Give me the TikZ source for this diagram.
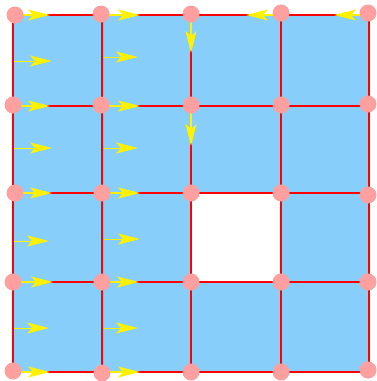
\documentclass[tikz,border=0pt]{standalone}
\usetikzlibrary{arrows.meta}
\definecolor{cellblue}{RGB}{135,206,250}
\definecolor{nodepink}{RGB}{255,160,160}
\tikzset{
  edge/.style={draw=red, line width=2.9pt},
  flow/.style={draw=yellow, line width=1.3pt, -{Stealth[length=22pt,width=11pt,inset=5pt]}},
  vertex/.style={circle, fill=nodepink, inner sep=0pt, minimum size=17pt},
  cell/.style={fill=cellblue}
}
\begin{document}
\begin{tikzpicture}[x=1pt,y=-1pt]
\useasboundingbox (0,0) rectangle (376,381);
% grid coordinates
\foreach \c/\x in {0/13,1/102,2/191,3/281,4/369}{
  \foreach \r/\y in {0/15,1/106,2/193,3/282,4/372}{
    \coordinate (p\r\c) at (\x,\y);
  }
}
% cells
\foreach \r/\rr in {0/1,1/2,2/3,3/4}{
  \foreach \c/\cc in {0/1,1/2,2/3,3/4}{
    \fill[cellblue] (p\r\c) -- (p\r\cc) -- (p\rr\cc) -- (p\rr\c) -- cycle;
  }
}
\fill[white] (p22) -- (p23) -- (p33) -- (p32) -- cycle;
% edges
\foreach \r in {0,1,2,3,4}{
  \foreach \c/\cc in {0/1,1/2,2/3,3/4}{
    \draw[edge] (p\r\c) -- (p\r\cc);
  }
}
\foreach \c in {0,1,2,3,4}{
  \foreach \r/\rr in {0/1,1/2,2/3,3/4}{
    \draw[edge] (p\r\c) -- (p\rr\c);
  }
}
% arrow end points
\coordinate (a00) at (50,15);   \coordinate (a01) at (140,15);
\coordinate (a10) at (50,106);  \coordinate (a11) at (140,106);
\coordinate (a20) at (52,193);  \coordinate (a21) at (140,193);
\coordinate (a30) at (53,282);  \coordinate (a31) at (139,282);
\coordinate (a40) at (50,372);  \coordinate (a41) at (140,372);
\draw[flow] (p00) -- (a00); \draw[flow] (p01) -- (a01);
\draw[flow] (p10) -- (a10); \draw[flow] (p11) -- (a11);
\draw[flow] (p20) -- (a20); \draw[flow] (p21) -- (a21);
\draw[flow] (p30) -- (a30); \draw[flow] (p31) -- (a31);
\draw[flow] (p40) -- (a40); \draw[flow] (p41) -- (a41);
% interior arrows
\coordinate (s0) at (14,61);   \coordinate (t0) at (52,61);
\coordinate (s1) at (103,57);  \coordinate (t1) at (138,57);
\coordinate (s2) at (14,148);  \coordinate (t2) at (52,148);
\coordinate (s3) at (103,148); \coordinate (t3) at (138,148);
\coordinate (s4) at (14,241);  \coordinate (t4) at (49,241);
\coordinate (s5) at (104,239); \coordinate (t5) at (140,239);
\coordinate (s6) at (14,328);  \coordinate (t6) at (49,328);
\coordinate (s7) at (103,328); \coordinate (t7) at (138,328);
\foreach \i in {0,...,7}{ \draw[flow, line width=1pt] (s\i) -- (t\i); }
% leftward and downward arrows
\coordinate (l3) at (246,15); \coordinate (l4) at (334,15);
\draw[flow] (p03) -- (l3); \draw[flow] (p04) -- (l4);
\coordinate (d0) at (191,53); \coordinate (d1) at (191,146);
\draw[flow] (p02) -- (d0); \draw[flow] (p12) -- (d1);
% vertices
\node[vertex] (n00) at (15,15) {};  \node[vertex] (n01) at (101,14) {};
\node[vertex] (n02) at (191,14) {}; \node[vertex] (n03) at (281,13) {};
\node[vertex] (n04) at (368,13) {};
\node[vertex] (n10) at (13,105) {}; \node[vertex] (n11) at (101,105) {};
\node[vertex] (n12) at (191,105) {}; \node[vertex] (n13) at (281,105) {};
\node[vertex] (n14) at (368,104) {};
\node[vertex] (n20) at (15,193) {}; \node[vertex] (n21) at (102,193) {};
\node[vertex] (n22) at (191,193) {}; \node[vertex] (n23) at (281,193) {};
\node[vertex] (n24) at (368,195) {};
\node[vertex] (n30) at (13,282) {}; \node[vertex] (n31) at (102,282) {};
\node[vertex] (n32) at (191,282) {}; \node[vertex] (n33) at (281,282) {};
\node[vertex] (n34) at (368,282) {};
\node[vertex] (n40) at (13,371) {}; \node[vertex] (n41) at (102,373) {};
\node[vertex] (n42) at (191,372) {}; \node[vertex] (n43) at (281,372) {};
\node[vertex] (n44) at (368,370) {};
\end{tikzpicture}
\end{document}
